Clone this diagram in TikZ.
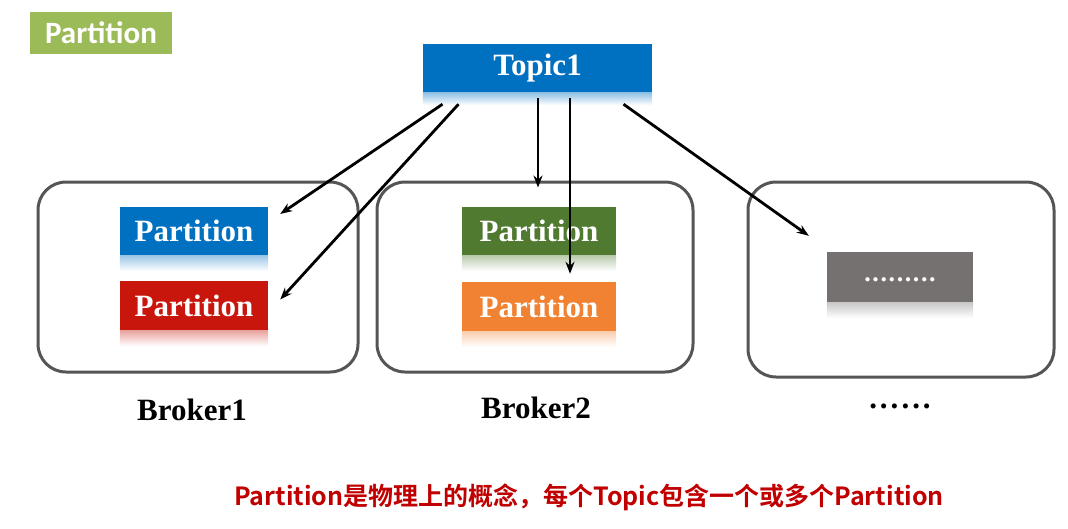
\documentclass[tikz,border=0pt]{standalone}
\usepackage{fontspec}
\setmainfont{Liberation Serif}
\newfontfamily\labelfont{Carlito}
\newfontfamily\cjkfont{Noto Sans CJK SC Bold}
\usetikzlibrary{positioning, arrows.meta, calc}
\definecolor{TopicBlue}{RGB}{0, 112, 192}
\definecolor{LabelGreen}{RGB}{155, 187, 89}
\definecolor{PartRed}{RGB}{200, 22, 12}
\definecolor{PartGreen}{RGB}{80, 122, 48}
\definecolor{PartOrange}{RGB}{240, 130, 50}
\definecolor{DotsGray}{RGB}{118, 113, 113}
\definecolor{BrokerGray}{RGB}{85, 85, 85}
\definecolor{NoteRed}{RGB}{192, 0, 0}

\begin{document}
\begin{tikzpicture}[x=1pt, y=-1pt,
    partbox/.style={minimum width=148pt, minimum height=48pt, inner sep=0pt, text=white, font=\fontsize{31}{34}\selectfont\bfseries},
    brokerbox/.style={draw=BrokerGray, line width=3pt, rounded corners=28pt, inner sep=0pt},
    brokerlabel/.style={font=\fontsize{31}{34}\selectfont\bfseries},
    arr/.style={-{Stealth[length=12pt, width=9pt]}, line width=2.8pt}]
    \useasboundingbox (0,0) rectangle (1068,528);

    % Title tag
    \node[fill=LabelGreen, text=white, minimum width=142pt, minimum height=42pt, inner sep=0pt,
          font=\labelfont\fontsize{31}{34}\selectfont\bfseries] (tag) at (101,33) {Partition};

    % Topic
    \node[fill=TopicBlue, text=white, minimum width=229pt, minimum height=48pt, inner sep=0pt,
          font=\fontsize{31}{34}\selectfont\bfseries] (topic) at (537.5,68) {Topic1};
    \shade[top color=TopicBlue!45, bottom color=white] (topic.south west) rectangle ($(topic.south east)+(0,13)$);

    % Brokers
    \node[brokerbox, minimum width=320pt, minimum height=190pt] (broker1) at (198,277) {};
    \node[brokerbox, minimum width=316pt, minimum height=190pt] (broker2) at (535,277) {};
    \node[brokerbox, minimum width=306pt, minimum height=195pt] (broker3) at (901,279.5) {};

    % Partitions
    \node[partbox, fill=TopicBlue] (p1) at (194,231) {Partition};
    \node[partbox, fill=PartRed, minimum height=49pt] (p2) at (194,305.5) {Partition};
    \node[partbox, fill=PartGreen, minimum width=154pt] (p3) at (539,231) {Partition};
    \node[partbox, fill=PartOrange, minimum width=154pt, minimum height=49pt] (p4) at (539,306.5) {Partition};
    \node[partbox, fill=DotsGray, minimum width=146pt, minimum height=50pt,
          font=\fontsize{26}{28}\selectfont\bfseries] (p5) at (900,277)
        {\raisebox{-10pt}{.\kern1.6pt.\kern1.6pt.\kern1.6pt.\kern1.6pt.\kern1.6pt.\kern1.6pt.\kern1.6pt.\kern1.6pt.}};

    % Reflections
    \foreach \n/\c in {p1/TopicBlue, p2/PartRed, p3/PartGreen, p4/PartOrange, p5/DotsGray}
        \shade[top color=\c!40, bottom color=white] (\n.south west) rectangle ($(\n.south east)+(0,16)$);

    % Broker labels
    \node[brokerlabel] (b1) at (192,410) {Broker1};
    \node[brokerlabel] (b2) at (536,408) {Broker2};
    \node[brokerlabel] (b3) at (900,406) {.\kern3pt.\kern3pt.\kern3pt.\kern3pt.\kern3pt.};

    % Arrows
    \draw[arr] ($(topic.south)+(-95,12)$) -- ($(p1.east)+(12,-17)$);
    \draw[arr] ($(topic.south)+(-79,12)$) -- ($(p2.east)+(12,-6)$);
    \draw[arr] ($(topic.south)+(0.5,6)$) -- ($(broker2.north)+(3,7)$);
    \draw[arr] ($(topic.south)+(32.5,6)$) -- ($(p4.north)+(31,-8)$);
    \draw[arr] ($(topic.south)+(86,12)$) -- ($(p5.north west)+(-18,-16)$);

    % Note
    \node[text=NoteRed, font=\cjkfont\fontsize{25}{28}\selectfont] (note) at (589,497)
        {Partition是物理上的概念，每个Topic包含一个或多个Partition};
\end{tikzpicture}
\end{document}
